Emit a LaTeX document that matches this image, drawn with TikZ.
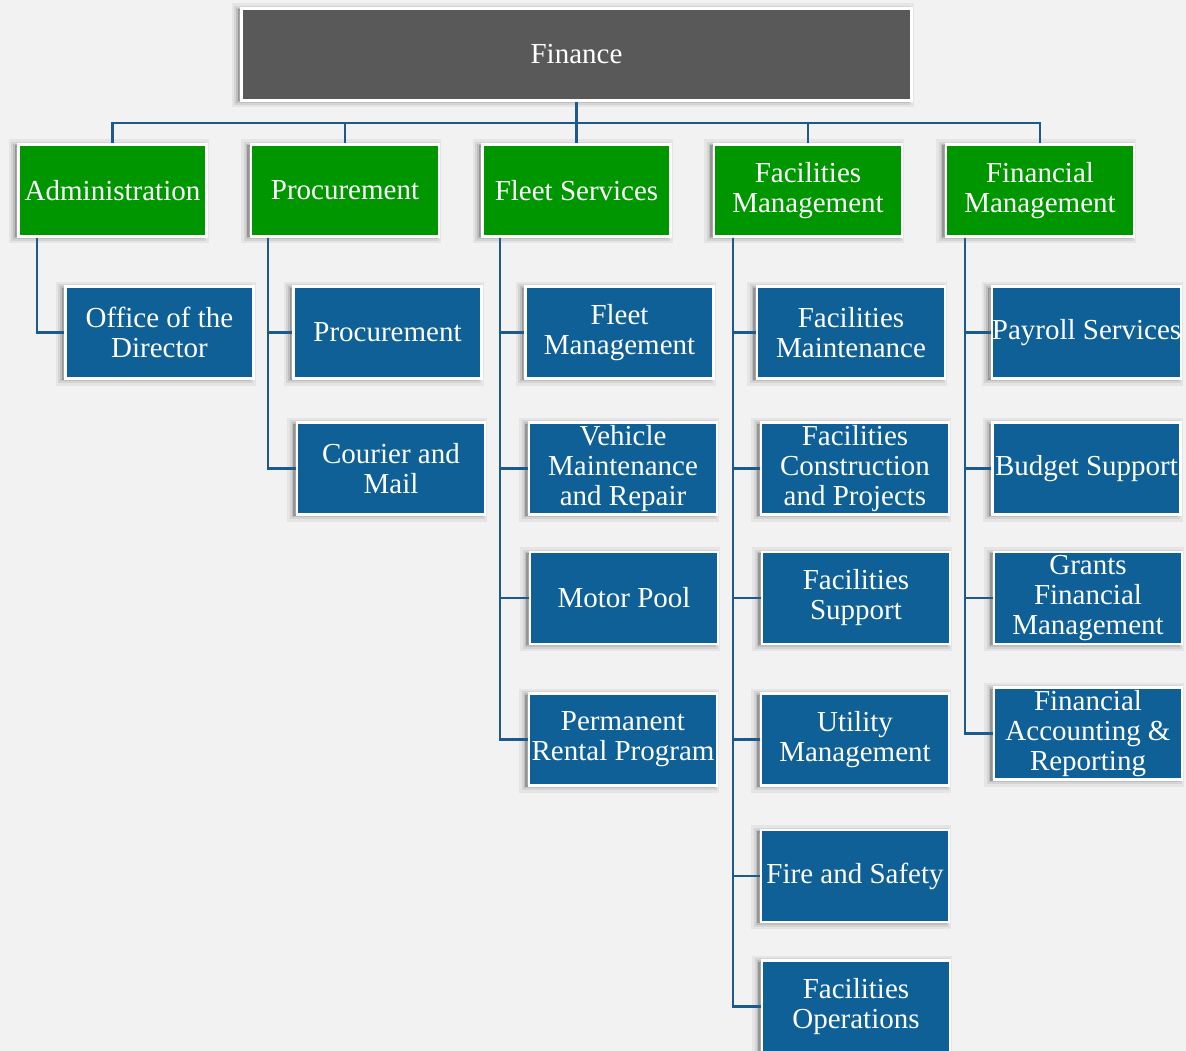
\documentclass[tikz,border=0pt]{standalone}
\usepackage{fontspec}
\setmainfont{Liberation Serif}
\definecolor{bgc}{HTML}{F2F2F2}
\definecolor{topc}{HTML}{595959}
\definecolor{greenc}{HTML}{009600}
\definecolor{bluec}{HTML}{0E6096}
\definecolor{linec}{HTML}{1B5A8A}
\begin{document}
\begin{tikzpicture}[x=1pt,y=-1pt,
  softshadow/.style={
    preaction={draw=black, fill=black, draw opacity=0.05, fill opacity=0.05, line width=12pt, transform canvas={xshift=-4pt,yshift=-1pt}},
    preaction={draw=black, fill=black, draw opacity=0.07, fill opacity=0.07, line width=7pt, transform canvas={xshift=-4pt,yshift=-1pt}},
    preaction={draw=black, fill=black, draw opacity=0.10, fill opacity=0.10, line width=3pt, transform canvas={xshift=-4pt,yshift=-1pt}}},
  box/.style={softshadow, draw=white, line width=2.5pt, text=white, align=center, inner sep=0pt,
    minimum width=188pt, minimum height=92pt,
    font=\fontsize{29}{30}\selectfont},
  lvlzero/.style={box, fill=topc, minimum width=670pt},
  lvlone/.style={box, fill=greenc},
  lvltwo/.style={box, fill=bluec},
  conn/.style={draw=linec, line width=2.3pt}]
\fill[bgc] (0,0) rectangle (1186,1051);
\useasboundingbox (0,0) rectangle (1186,1051);

\node[lvlzero] (fin) at (576.5,54.5) {Finance};

\node[lvlone] (adm) at (112.5,190.5) {Administration};
\node[lvlone] (pro) at (345,190.5) {Procurement};
\node[lvlone] (fle) at (576.5,190.5) {Fleet Services};
\node[lvlone] (fac) at (808,190.5) {Facilities\\Management};
\node[lvlone] (fim) at (1040,190.5) {Financial\\Management};

% Administration
\node[lvltwo] (odir) at (159.5,332.5) {Office of the\\Director};
% Procurement
\node[lvltwo] (proc) at (387.5,332.5) {Procurement};
\node[lvltwo] (cour) at (391,468.5) {Courier and\\Mail};
% Fleet
\node[lvltwo] (flm) at (619.5,332.5) {Fleet\\Management};
\node[lvltwo] (veh) at (623,468.5) {Vehicle\\Maintenance\\and Repair};
\node[lvltwo] (mot) at (624,598) {Motor Pool};
\node[lvltwo] (per) at (623,739.5) {Permanent\\Rental Program};
% Facilities
\node[lvltwo] (fma) at (851,332.5) {Facilities\\Maintenance};
\node[lvltwo] (fcp) at (855,468.5) {Facilities\\Construction\\and Projects};
\node[lvltwo] (fsu) at (856,598) {Facilities\\Support};
\node[lvltwo] (uti) at (855,739.5) {Utility\\Management};
\node[lvltwo] (fir) at (855,876) {Fire and Safety};
\node[lvltwo] (fop) at (856,1006.5) {Facilities\\Operations};
% Financial
\node[lvltwo] (pay) at (1086.5,332.5) {Payroll Services};
\node[lvltwo] (bud) at (1086.5,468.5) {Budget Support};
\node[lvltwo] (gra) at (1088,598) {Grants\\Financial\\Management};
\node[lvltwo] (acc) at (1088,733.5) {Financial\\Accounting \&\\Reporting};

% connectors
\coordinate (bus) at (576.5,123);
\draw[conn] (fin.south) -- (bus);
\draw[conn] (bus) -| (adm.north);
\draw[conn] (bus) -| (pro.north);
\draw[conn] (bus) -- (fle.north);
\draw[conn] (bus) -| (fac.north);
\draw[conn] (bus) -| (fim.north);

\draw[conn] ([xshift=20pt]adm.south west) |- (odir.west);
\draw[conn] ([xshift=18pt]pro.south west) |- (proc.west);
\draw[conn] ([xshift=18pt]pro.south west) |- (cour.west);
\draw[conn] ([xshift=19pt]fle.south west) |- (flm.west);
\draw[conn] ([xshift=19pt]fle.south west) |- (veh.west);
\draw[conn] ([xshift=19pt]fle.south west) |- (mot.west);
\draw[conn] ([xshift=19pt]fle.south west) |- (per.west);
\draw[conn] ([xshift=20pt]fac.south west) |- (fma.west);
\draw[conn] ([xshift=20pt]fac.south west) |- (fcp.west);
\draw[conn] ([xshift=20pt]fac.south west) |- (fsu.west);
\draw[conn] ([xshift=20pt]fac.south west) |- (uti.west);
\draw[conn] ([xshift=20pt]fac.south west) |- (fir.west);
\draw[conn] ([xshift=20pt]fac.south west) |- (fop.west);
\draw[conn] ([xshift=20pt]fim.south west) |- (pay.west);
\draw[conn] ([xshift=20pt]fim.south west) |- (bud.west);
\draw[conn] ([xshift=20pt]fim.south west) |- (gra.west);
\draw[conn] ([xshift=20pt]fim.south west) |- (acc.west);
\end{tikzpicture}
\end{document}
